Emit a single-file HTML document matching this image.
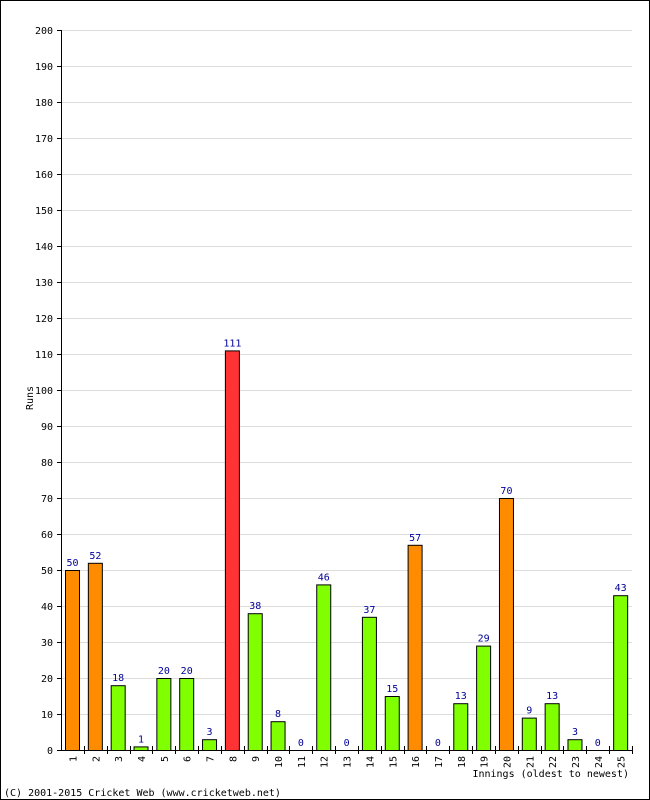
<!DOCTYPE html>
<html><head><meta charset="utf-8"><style>
body{margin:0;background:#fff}
svg{display:block}
text{font-family:"DejaVu Sans Mono","Liberation Mono",monospace;font-size:10px}
</style></head><body>
<svg id="c" width="650" height="800">
<rect x="0.5" y="0.5" width="649" height="799" fill="#fff" stroke="#000"/>
<g id="grid"></g><g id="bars"></g><g id="axes"></g>
<text x="27" y="392" transform="rotate(-90 33 392)" text-anchor="middle">Runs</text>
<text x="629" y="777" text-anchor="end">Innings (oldest to newest)</text>
<text x="4" y="796">(C) 2001-2015 Cricket Web (www.cricketweb.net)</text>
</svg>
<script>
const categories=["1","2","3","4","5","6","7","8","9","10","11","12","13","14","15","16","17","18","19","20","21","22","23","24","25"];
const runs=[50,52,18,1,20,20,3,111,38,8,0,46,0,37,15,57,0,13,29,70,9,13,3,0,43];
const yTicks=[0,10,20,30,40,50,60,70,80,90,100,110,120,130,140,150,160,170,180,190,200];
const NS="http://www.w3.org/2000/svg";
const x0=61,x1=632,yBase=750,yTop=30,yMax=200;
const slot=(x1-x0)/categories.length;
const y=v=>yBase-(v/yMax)*(yBase-yTop);
function mk(t,a,p){const e=document.createElementNS(NS,t);for(const k in a)e.setAttribute(k,a[k]);p.appendChild(e);return e;}
const grid=document.getElementById('grid'),bars=document.getElementById('bars'),axes=document.getElementById('axes');
yTicks.forEach(v=>{
  if(v>0){const g=mk('line',{x1:x0,x2:x1,y1:y(v)+.5,y2:y(v)+.5,stroke:'#ddd'},grid);
  
  }
  const t=mk('text',{x:53,y:y(v)+4,'text-anchor':'end'},axes);t.textContent=v;
  
  
  mk('line',{x1:x0-4,x2:x0,y1:y(v)+.5,y2:y(v)+.5,stroke:'#000'},axes);
});
categories.forEach((c,i)=>{
  const v=runs[i];
  const col=v>=100?'#ff3333':v>=50?'#ff8c00':'#7fff00';
  const bx=x0+i*slot+4;
  const r=mk('rect',{x:bx+.5,y:y(v)+.5,width:14,height:Math.max(0,yBase-y(v)),fill:col,stroke:'#000'},bars);
  
  
  const lt=mk('text',{x:bx+7.5,y:y(v)-4,'text-anchor':'middle',fill:'#000099'},bars);lt.textContent=v;
  
  
  const cx=bx+7.5;
  const xt=mk('text',{x:0,y:0,'text-anchor':'end',transform:`translate(${cx+4},${yBase+6}) rotate(-90)`},axes);xt.textContent=c;
  
  
  const tx=Math.round(x0+(i+1)*slot)+.5;
  mk('line',{x1:tx,x2:tx,y1:yBase-4,y2:yBase+4,stroke:'#000'},axes);
});
mk('line',{x1:x0+.5,x2:x0+.5,y1:yTop,y2:yBase,stroke:'#000'},axes);
mk('line',{x1:x0,x2:x1,y1:yBase+.5,y2:yBase+.5,stroke:'#000'},axes);
</script>
</body></html>
